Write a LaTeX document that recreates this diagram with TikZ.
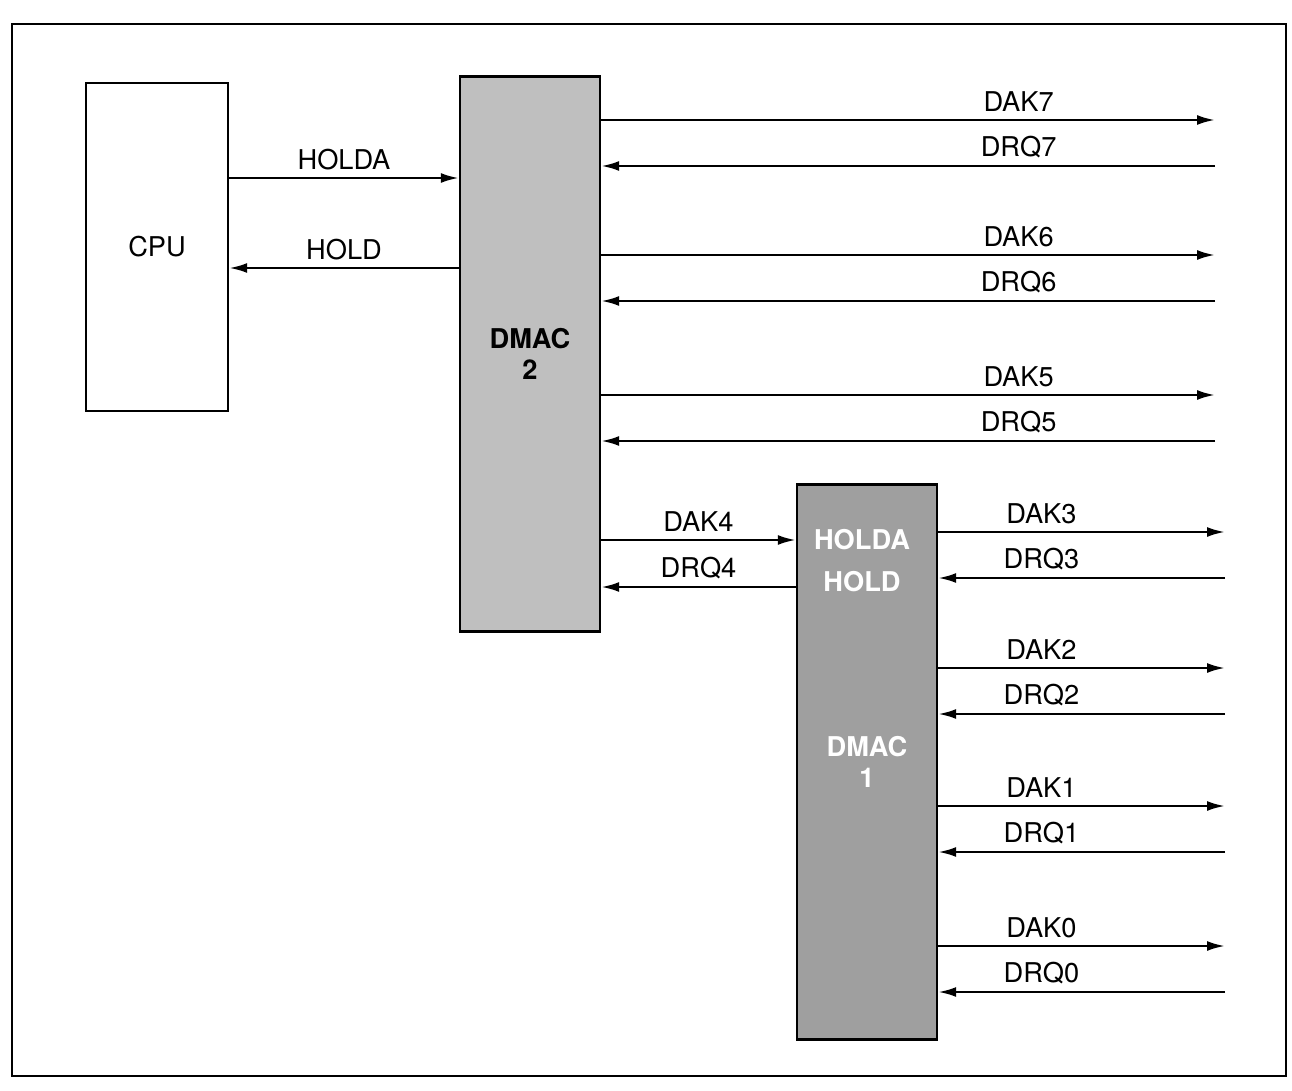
\documentclass[tikz,border=0pt]{standalone}
\usepackage{fontspec}
\setmainfont{TeX Gyre Heros}
\usetikzlibrary{arrows.meta, positioning}
\newcommand{\sigfont}{\fontsize{15.5pt}{18pt}\selectfont}

\begin{document}
\begin{tikzpicture}[x=0.02cm, y=-0.02cm,
    box/.style={draw, line width=1.4pt, inner sep=0pt, align=center, font=\sigfont},
    chip/.style={box, minimum width=2.8cm, minimum height=11.1cm, font=\sigfont\bfseries},
    sig/.style={line width=1.4pt, -{Latex[length=3.6mm, width=2mm]}},
    lbl/.style={above, inner sep=4pt, font=\sigfont}]
    \useasboundingbox (0,0) rectangle (1292,1091);

    % Outer frame
    \draw[line width=1.4pt] (12,24) rectangle (1286,1076);

    % Define blocks
    \node[box, minimum width=2.84cm, minimum height=6.56cm] (cpu) at (157,247) {CPU};
    \node[chip, fill=gray!50] (dmac2) at (530,354) {DMAC\\2};
    \node[chip, fill=gray!75, text=white] (dmac1) at (867,762) {DMAC\\1};
    \node[font=\sigfont\bfseries, text=white] (holdain) at (862,540) {HOLDA};
    \node[font=\sigfont\bfseries, text=white] (holdin) at (862,582) {HOLD};

    % CPU <-> DMAC 2
    \draw[sig] (cpu.east |- 0,178) -- (dmac2.west |- 0,178) node[lbl, midway] {HOLDA};
    \draw[sig] (dmac2.west |- 0,268) -- (cpu.east |- 0,268) node[lbl, midway] {HOLD};

    % DMAC 2 <-> DMAC 1 (cascade)
    \draw[sig] (dmac2.east |- 0,540) -- (dmac1.west |- 0,540) node[lbl, midway] {DAK4};
    \draw[sig] (dmac1.west |- 0,587) -- (dmac2.east |- 0,587) node[lbl, midway] {DRQ4};

    % Channels of DMAC 2
    \foreach \n/\y in {7/120, 6/255, 5/395} {
        \coordinate (dak\n) at (1215,\y);
        \coordinate (drq\n) at (1215,\y+46);
        \draw[sig] (dmac2.east |- dak\n) -- (dak\n) node[lbl, pos=0.68] {DAK\n};
        \draw[sig] (drq\n) -- (dmac2.east |- drq\n) node[lbl, pos=0.32] {DRQ\n};
    }

    % Channels of DMAC 1
    \foreach \n/\y in {3/532, 2/668, 1/806, 0/946} {
        \coordinate (dak\n) at (1225,\y);
        \coordinate (drq\n) at (1225,\y+46);
        \draw[sig] (dmac1.east |- dak\n) -- (dak\n) node[lbl, pos=0.36] {DAK\n};
        \draw[sig] (drq\n) -- (dmac1.east |- drq\n) node[lbl, pos=0.64] {DRQ\n};
    }
\end{tikzpicture}
\end{document}
